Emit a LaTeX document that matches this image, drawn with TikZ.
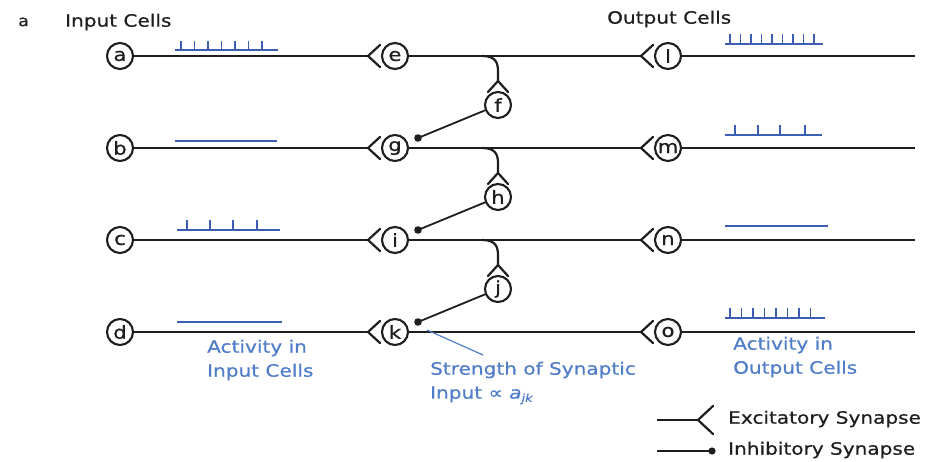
\documentclass[tikz,border=0pt]{standalone}
\usepackage{fontspec}
\setmainfont[FakeStretch=1.18,FakeBold=0.7]{DejaVu Sans}
\definecolor{sig}{RGB}{60,95,180}
\definecolor{lbl}{RGB}{80,125,200}
\definecolor{ink}{RGB}{30,30,30}
\begin{document}
\begin{tikzpicture}[x=1pt,y=-1pt,
  cell/.style={circle, draw=ink, line width=2.1pt, minimum size=26pt, inner sep=0pt, text=ink, font=\fontsize{18}{18}\selectfont},
  axon/.style={draw=ink, line width=2.8pt},
  syn/.style={draw=ink, line width=2.2pt, line join=round, line cap=round},
  inh/.style={draw=ink, line width=1.8pt},
  spike/.style={draw=sig, line width=1.4pt},
  lab/.style={font=\fontsize{17}{24}\selectfont, anchor=west, align=left, inner sep=0pt},
  head/.style={font=\fontsize{17}{20}\selectfont, anchor=west, inner sep=0pt, text=ink}]
\useasboundingbox (0,0) rectangle (931,462);

% headings
\node[head, font=\fontsize{15}{15}\selectfont] (pa) at (18,22) {a};
\node[head] (ic) at (65,22) {Input Cells};
\node[head] (oc) at (607,19) {Output Cells};

% rows
\foreach \inp/\mid/\out/\y in {a/e/l/56, b/g/m/148, c/i/n/240, d/k/o/332}{
  \node[cell] (\inp) at (120,\y) {\inp};
  \node[cell] (\mid) at (395,\y) {\mid};
  \node[cell] (\out) at (668,\y) {\out};
  \coordinate (\inp s) at (368,\y);
  \coordinate (\mid s) at (641,\y);
  \coordinate (\out e) at (915,\y);
  \draw[axon] (\inp) -- (\inp s);
  \draw[axon] (\mid) -- (\mid s);
  \draw[axon] (\out) -- (\out e);
  \draw[syn] (\inp s) ++(12,-11) -- (\inp s) -- ++(12,11);
  \draw[syn] (\mid s) ++(12,-11) -- (\mid s) -- ++(12,11);
}

% interneurons
\foreach \src/\sub/\tgt/\y in {e/f/g/56, g/h/i/148, i/j/k/240}{
  \node[cell] (\sub) at (498,\y+49) {\sub};
  \coordinate (\sub b) at (482,\y);
  \coordinate (\sub v) at (498,\y+25);
  \coordinate (\tgt d) at (418,\y+82);
  \draw[syn] (\sub b) .. controls (494,\y) and (498,\y+5) .. (498,\y+15) -- (\sub v);
  \draw[syn] (\sub v) ++(-10,11) -- (\sub v) -- ++(10,11);
  \draw[inh] (\sub) -- (\tgt d);
  \fill[ink] (\tgt d) circle (3.8);
}

% spike trains
\draw[spike] (175,50) -- (278,50);
\foreach \x in {0,...,6} \draw[spike] (181+13.5*\x,50) -- ++(0,-9);
\draw[spike] (175,141) -- (277,141);
\draw[spike] (177,230) -- (280,230);
\foreach \x in {187,210,233,257} \draw[spike] (\x,230) -- ++(0,-10);
\draw[spike] (177,322) -- (282,322);

\draw[spike] (725,44) -- (823,44);
\foreach \x in {0,...,8} \draw[spike] (730+10.5*\x,44) -- ++(0,-10);
\draw[spike] (725,135) -- (822,135);
\foreach \x in {735,758,780,805} \draw[spike] (\x,135) -- ++(0,-10);
\draw[spike] (725,226) -- (828,226);
\draw[spike] (725,318) -- (825,318);
\foreach \x in {0,...,7} \draw[spike] (730+11.5*\x,318) -- ++(0,-10);

% blue labels
\node[lab, text=lbl] (actin) at (207,360) {Activity in\\Input Cells};
\node[lab, text=lbl] (actout) at (733,357) {Activity in\\Output Cells};
\node[lab, text=lbl] (str) at (430,383) {Strength of Synaptic\\Input ∝ \textit{a}\raisebox{-0.35ex}{\fontsize{11}{11}\selectfont\textit{jk}}};
\coordinate (kq) at (427,330);
\coordinate (sq) at (483,355);
\draw[lbl, line width=1.2pt] (kq) -- (sq);

% legend
\coordinate (l1a) at (657,420);
\coordinate (l1b) at (698,420);
\draw[axon, line width=2.2pt] (l1a) -- (l1b);
\draw[syn] (l1b) ++(15,-14) -- (l1b) -- ++(15,14);
\node[head] (lex) at (728,419) {Excitatory Synapse};
\coordinate (l2a) at (657,451);
\coordinate (l2b) at (712,451);
\draw[axon, line width=2.2pt] (l2a) -- (l2b);
\fill[ink] (l2b) circle (3.6);
\node[head] (lin) at (728,450) {Inhibitory Synapse};
\end{tikzpicture}
\end{document}
